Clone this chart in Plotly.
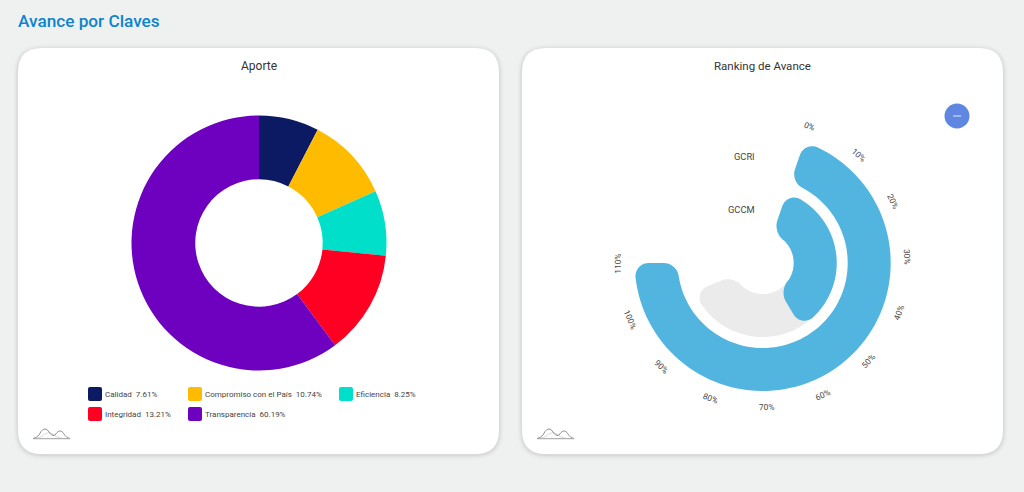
import numpy as np
import plotly.graph_objects as go

W, H = 1024, 492

# ---- data
aporte_labels = ["Calidad", "Compromiso con el País", "Eficiencia", "Integridad", "Transparencia"]
aporte_values = [7.61, 10.74, 8.25, 13.21, 60.19]
aporte_colors = ["#0b1a63", "#ffbb00", "#00dfca", "#ff0022", "#6e00bf"]

ranking_labels = ["GCRI", "GCCM"]
ranking_values = [110, 57]
track_value = 100
pct_ticks = [0, 10, 20, 30, 40, 50, 60, 70, 80, 90, 100, 110]

# ---- geometry helpers
CX, CY = 762.7, 263.0
START, DEG_PER_PCT = 19.0, 251.0 / 110.0
LABEL_START, LABEL_DEG_PER_PCT = 18.8, 2.282
RINGS = {"GCRI": (85.0, 128.0), "GCCM": (31.0, 74.0)}
RMAX = 150


def X(p):
    return p / W


def Y(p):
    return 1 - p / H


def theta(pct):
    return START + DEG_PER_PCT * pct


def pol2xy(r, a):
    t = np.radians(a)
    return np.array([r * np.sin(t), r * np.cos(t)])


def corner(p0, ctrl, p1, n=12):
    c1 = p0 + 0.55 * (ctrl - p0)
    c2 = p1 + 0.55 * (ctrl - p1)
    pts = []
    for t in np.linspace(0, 1, n):
        pts.append((1 - t) ** 3 * p0 + 3 * t * (1 - t) ** 2 * c1 + 3 * t ** 2 * (1 - t) * c2 + t ** 3 * p1)
    return pts


def ring_bar(r0, r1, pct, c=14.0):
    a0, a1 = theta(0), theta(pct)
    d1, d0 = np.degrees(c / r1), np.degrees(c / r0)
    pts = []
    for a in np.linspace(a0 + d1, a1 - d1, 90):
        pts.append(pol2xy(r1, a))
    pts += corner(pol2xy(r1, a1 - d1), pol2xy(r1, a1), pol2xy(r1 - c, a1))
    pts += corner(pol2xy(r0 + c, a1), pol2xy(r0, a1), pol2xy(r0, a1 - d0))
    for a in np.linspace(a1 - d0, a0 + d0, 90):
        pts.append(pol2xy(r0, a))
    pts += corner(pol2xy(r0, a0 + d0), pol2xy(r0, a0), pol2xy(r0 + c, a0))
    pts += corner(pol2xy(r1 - c, a0), pol2xy(r1, a0), pol2xy(r1, a0 + d1))
    pts.append(pts[0])
    pts = np.array(pts)
    return np.hypot(pts[:, 0], pts[:, 1]), np.degrees(np.arctan2(pts[:, 0], pts[:, 1])) % 360


def rrect(x0, y0, x1, y1, r):
    return (f"M{X(x0+r)},{Y(y0)} L{X(x1-r)},{Y(y0)} Q{X(x1)},{Y(y0)} {X(x1)},{Y(y0+r)} "
            f"L{X(x1)},{Y(y1-r)} Q{X(x1)},{Y(y1)} {X(x1-r)},{Y(y1)} "
            f"L{X(x0+r)},{Y(y1)} Q{X(x0)},{Y(y1)} {X(x0)},{Y(y1-r)} "
            f"L{X(x0)},{Y(y0+r)} Q{X(x0)},{Y(y0)} {X(x0+r)},{Y(y0)} Z")


fig = go.Figure()

# ---- donut
fig.add_trace(go.Pie(
    labels=aporte_labels, values=aporte_values, hole=0.5, sort=False, direction="clockwise",
    rotation=0, marker=dict(colors=aporte_colors, line=dict(width=0)), textinfo="none",
    showlegend=False, domain=dict(x=[X(131.5), X(386.5)], y=[Y(370.5), Y(115.5)]),
))

# ---- radial bars
r, t = ring_bar(*RINGS["GCCM"], track_value)
fig.add_trace(go.Scatterpolar(r=r, theta=t, mode="lines", fill="toself", fillcolor="#ebebeb",
                              line=dict(width=0, color="#ebebeb"), showlegend=False, hoverinfo="skip"))
for name, val in zip(ranking_labels[::-1], ranking_values[::-1]):
    r, t = ring_bar(*RINGS[name], val)
    fig.add_trace(go.Scatterpolar(r=r, theta=t, mode="lines", fill="toself", fillcolor="#52b5e0",
                                  line=dict(width=0, color="#52b5e0"), name=name, showlegend=False,
                                  hoverinfo="name"))

shapes = []
# ---- cards with soft shadow
for x0, x1 in [(18, 499), (522, 1003)]:
    for grow, op in [(5, 0.008), (4, 0.012), (3, 0.016), (2, 0.022), (1, 0.03)]:
        shapes.append(dict(type="path", xref="paper", yref="paper", layer="below",
                           path=rrect(x0 - grow, 48 - grow + 1, x1 + grow, 454 + grow + 1, 24 + grow),
                           fillcolor=f"rgba(0,0,0,{op})", line=dict(width=0)))
    shapes.append(dict(type="path", xref="paper", yref="paper", layer="below",
                       path=rrect(x0, 48, x1, 454, 24), fillcolor="#ffffff", line=dict(width=0)))

annotations = []


def text(s, x, y, size, color="#444444", anchor="center", angle=0, weight=None):
    shift = {"left": -2, "right": 2, "center": 0}[anchor]
    font = dict(size=size, color=color, family="Roboto, Inter, sans-serif")
    if weight:
        font["weight"] = weight
    annotations.append(dict(text=s, x=X(x), y=Y(y), xref="paper", yref="paper", showarrow=False,
                            xanchor=anchor, yanchor="middle", textangle=angle, xshift=shift,
                            font=font))


text("Avance por Claves", 18, 21, 17.2, "#0a84cf", "left", weight=500)
text("Aporte", 259, 66, 12, "#333333")
text("Ranking de Avance", 762, 66, 11.5, "#333333")

# ---- legend
legend_pos = [(88, 387), (188, 387), (339, 387), (88, 407), (188, 407)]
for lab, val, col, (lx, ly) in zip(aporte_labels, aporte_values, aporte_colors, legend_pos):
    shapes.append(dict(type="path", xref="paper", yref="paper", path=rrect(lx, ly, lx + 14, ly + 14, 2),
                       fillcolor=col, line=dict(width=0)))
    text(f"{lab}  {val:.2f}%", lx + 17, ly + 7, 8.0, "#444444", "left")

# ---- angular tick labels
for p in pct_ticks:
    a = LABEL_START + LABEL_DEG_PER_PCT * p
    dx, dy = pol2xy(144.5, a)
    if a <= 90:
        ang = a
    elif a <= 260:
        ang = a - 180
    else:
        ang = a - 360
    text(f"{p}%", CX + dx, CY - dy, 8.3, "#444444", "center", ang)

# ---- bar names
text("GCRI", 755, 156, 9.3, "#444444", "right")
text("GCCM", 755, 209, 9.3, "#444444", "right")

# ---- round button
shapes.append(dict(type="circle", xref="paper", yref="paper", x0=X(944.5), x1=X(969.5), y0=Y(128.5), y1=Y(103.5),
                   fillcolor="#5f87e1", line=dict(width=0)))
shapes.append(dict(type="line", xref="paper", yref="paper", x0=X(953), x1=X(961), y0=Y(116), y1=Y(116),
                   line=dict(color="#e4ebfb", width=1)))

# ---- small sketch icons (each stroke is a separate polyline-style path)
for ox in [0, 504]:
    big = [(33, 438.5), (36, 437.5), (39, 435), (41, 431.5), (43, 429.5), (45, 429), (47, 429.5),
           (49, 432), (51, 434.5), (53, 435.5), (55, 435), (57, 432.5), (59, 431), (61, 431),
           (63, 432.5), (65, 435.5), (67, 437.5), (70, 438.5)]
    faint = [(36, 438.5), (41, 437), (45, 434), (49, 432.5), (53, 434), (57, 437), (62, 438.5)]
    for pts, col, wd in [(faint, "#cfcfcf", 0.8), (big, "#939393", 1.0)]:
        path = "M" + " L".join(f"{X(a + ox)},{Y(b)}" for a, b in pts)
        shapes.append(dict(type="path", xref="paper", yref="paper", path=path,
                           line=dict(color=col, width=wd)))
    shapes.append(dict(type="line", xref="paper", yref="paper", x0=X(33 + ox), x1=X(70 + ox), y0=Y(438.7), y1=Y(438.7),
                       line=dict(color="#a0a0a0", width=1)))

fig.update_layout(
    width=W, height=H, margin=dict(l=0, r=0, t=0, b=0), paper_bgcolor="#eff1f1",
    polar=dict(
        domain=dict(x=[X(CX - RMAX), X(CX + RMAX)], y=[Y(CY + RMAX), Y(CY - RMAX)]),
        bgcolor="rgba(0,0,0,0)",
        radialaxis=dict(range=[0, RMAX], visible=False),
        angularaxis=dict(rotation=90, direction="clockwise", thetaunit="degrees", visible=False),
    ),
    shapes=shapes, annotations=annotations,
)

fig.write_html("out.html", config=dict(displayModeBar=False),
               post_script="document.body.style.margin='0';document.body.style.background='#eff1f1';")
